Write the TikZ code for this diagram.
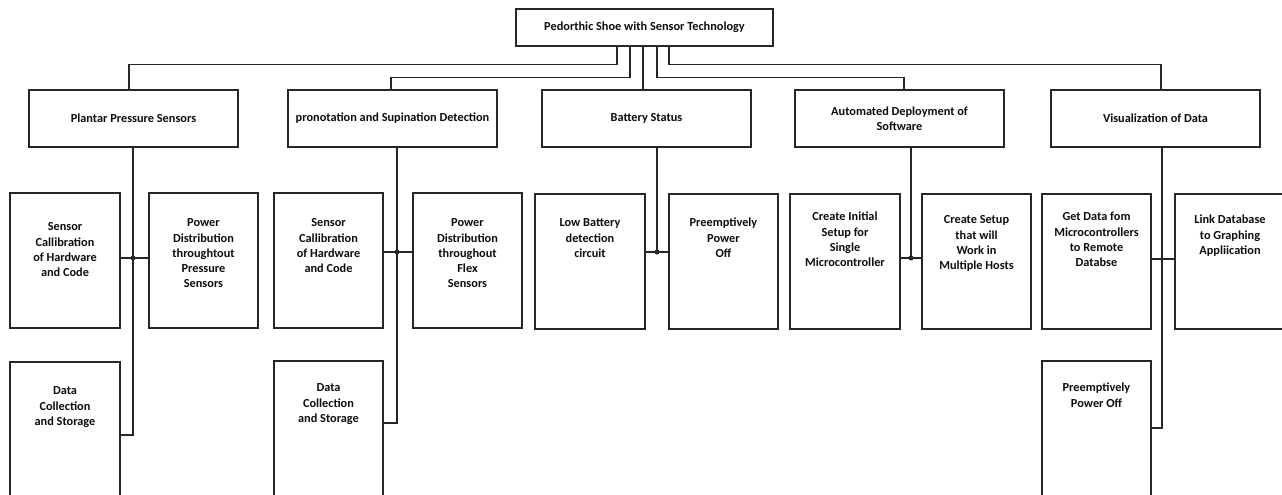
\documentclass[tikz,border=0pt]{standalone}
\usepackage{fontspec}
\setmainfont{Carlito}
\newcommand\tbox[4]{\parbox[c][#2pt][t]{#1pt}{\centering\vspace*{#3pt}\strut#4\par}}
\begin{document}
\begin{tikzpicture}[x=1pt,y=-1pt,
  box/.style={draw=black!85, line width=1.3pt, inner sep=0pt, text=black!95,
    font=\bfseries\fontsize{12.3}{15.3}\selectfont},
  lvl/.style={box, minimum width=209pt, minimum height=57pt, align=center},
  conn/.style={draw=black!85, line width=1.1pt},
  jdot/.style={circle, fill=black!85, inner sep=0pt, minimum size=5pt}]
\clip (0,0) rectangle (1282,495);
\fill[white] (0,0) rectangle (1282,495);
% title
\node[box, minimum width=257pt, minimum height=37pt] (T) at (644.5,27.5) {Pedorthic Shoe with Sensor Technology};
% level 1
\node[lvl] (L1) at (133.5,118.5) {Plantar Pressure Sensors};
\node[lvl] (L2) at (392.5,118.5) {pronotation and Supination Detection};
\node[lvl] (L3) at (646.5,118.5) {Battery Status};
\node[lvl] (L4) at (899.5,118.5) {Automated Deployment of\\Software};
\node[lvl] (L5) at (1155.5,118.5) {Visualization of Data};
% level 2 / 3
\node[box] (P1) at (65,260.5) {\tbox{110}{135}{27}{Sensor\\Callibration\\of Hardware\\and Code}};
\node[box] (P2) at (203.5,260.5) {\tbox{109}{135}{23}{Power\\Distribution\\throughtout\\Pressure\\Sensors}};
\node[box] (P3) at (65,431) {\tbox{110}{138}{22}{Data\\Collection\\and Storage}};
\node[box] (S1) at (328.5,260.5) {\tbox{109}{135}{23}{Sensor\\Callibration\\of Hardware\\and Code}};
\node[box] (S2) at (467.5,260.5) {\tbox{109}{135}{23}{Power\\Distribution\\throughout\\Flex\\Sensors}};
\node[box] (S3) at (328.5,430.5) {\tbox{109}{139}{20}{Data\\Collection\\and Storage}};
\node[box] (B1) at (590,261.5) {\tbox{110}{135}{22}{Low Battery\\detection\\circuit}};
\node[box] (B2) at (723.5,261.5) {\tbox{109}{135}{22}{Preemptively\\Power\\Off}};
\node[box] (A1) at (845,261.5) {\tbox{110}{135}{16}{Create Initial\\Setup for\\Single\\Microcontroller}};
\node[box] (A2) at (976.5,261.5) {\tbox{109}{135}{19}{Create Setup\\that will\\Work in\\Multiple Hosts}};
\node[box] (V1) at (1096.5,261.5) {\tbox{109}{135}{16}{Get Data fom\\Microcontrollers\\to Remote\\Databse}};
\node[box] (V2) at (1230,261.5) {\tbox{110}{135}{19}{Link Database\\to Graphing\\Appliication}};
\node[box] (V3) at (1096.5,430.5) {\tbox{109}{139}{20}{Preemptively\\Power Off}};
% title to level 1
\draw[conn] ([xshift=-27.5pt]T.south) -- ++(0,18) -| ([xshift=-4.5pt]L1.north);
\draw[conn] ([xshift=-14.5pt]T.south) -- ++(0,31) -| ([xshift=-1.5pt]L2.north);
\draw[conn] ([xshift=-1.5pt]T.south) -- ([xshift=-3.5pt]L3.north);
\draw[conn] ([xshift=12.5pt]T.south) -- ++(0,31) -| ([xshift=4.5pt]L4.north);
\draw[conn] ([xshift=24.5pt]T.south) -- ++(0,18) -| ([xshift=5.5pt]L5.north);
% plantar
\coordinate (tP) at ([xshift=-0.5pt]L1.south);
\coordinate (hP) at ([yshift=2.5pt]P1.east);
\coordinate (eP) at ([yshift=-4pt]P3.east);
\draw[conn] (tP) -- (tP |- eP) -- (eP);
\draw[conn] (hP) -- ([yshift=2.5pt]P2.west);
\node[jdot] (dP) at (tP |- hP) {};
% pronotation
\coordinate (tS) at ([xshift=4.5pt]L2.south);
\coordinate (hS) at ([yshift=8.5pt]S1.east);
\coordinate (eS) at ([yshift=7.5pt]S3.east);
\draw[conn] (tS) -- (tS |- eS) -- (eS);
\draw[conn] (hS) -- ([yshift=8.5pt]S2.west);
\node[jdot] (dS) at (tS |- hS) {};
% battery
\coordinate (tB) at ([xshift=10.5pt]L3.south);
\coordinate (hB) at ([yshift=9.5pt]B1.east);
\draw[conn] (tB) -- (tB |- hB);
\draw[conn] (hB) -- ([yshift=9.5pt]B2.west);
\node[jdot] (dB) at (tB |- hB) {};
% automated
\coordinate (tA) at ([xshift=11.5pt]L4.south);
\coordinate (hA) at ([yshift=3.5pt]A1.east);
\draw[conn] (tA) -- (tA |- hA);
\draw[conn] (hA) -- ([yshift=3.5pt]A2.west);
\node[jdot] (dA) at (tA |- hA) {};
% visualization
\coordinate (tV) at ([xshift=6.5pt]L5.south);
\coordinate (hV) at ([yshift=2.5pt]V1.east);
\coordinate (eV) at ([yshift=2.5pt]V3.east);
\draw[conn] (tV) -- (tV |- eV) -- (eV);
\draw[conn] (hV) -- ([yshift=2.5pt]V2.west);
\end{tikzpicture}
\end{document}
